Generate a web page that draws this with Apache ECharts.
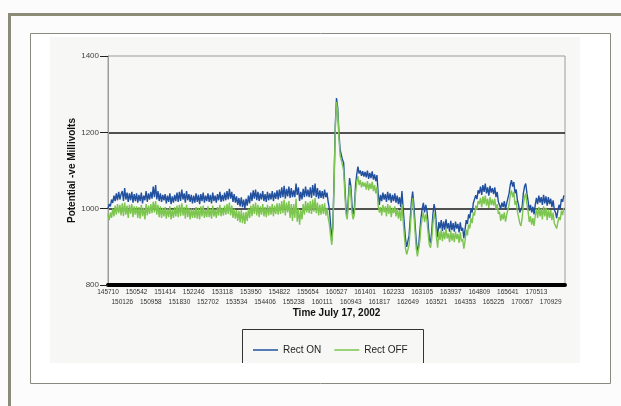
<!DOCTYPE html>
<html>
<head>
<meta charset="utf-8">
<script src="https://cdn.jsdelivr.net/npm/echarts@6/dist/echarts.min.js"></script>
<style>
  html, body { margin: 0; padding: 0; background: #fcfcfc; }
  #chart { width: 621px; height: 406px; }
</style>
</head>
<body>
<div id="chart"></div>
<script>
// Pipe-to-soil potential log, July 17 2002 (readings in -mV).
// Each row below covers one time-label step, 12 readings per step.
const PER_STEP = 12;

const timeLabels = [
  '145710','150126','150542','150958','151414','151830','152246','152702',
  '153118','153534','153950','154406','154822','155238','155654','160111',
  '160527','160943','161401','161817','162233','162649','163105','163521',
  '163937','164353','164809','165225','165641','170057','170513','170929'
];

const yTicks = [800, 1000, 1200, 1400];

const rectOn = [
  1000,1012,1006,1024,1015,1034,1020,1040,1022,1044,1024,1038,
  1046,1020,1054,1024,1042,1018,1040,1022,1044,1016,1038,1020,
  1040,1016,1036,1020,1042,1014,1034,1022,1046,1018,1040,1024,
  1044,1026,1058,1030,1062,1024,1046,1020,1040,1018,1036,1022,
  1038,1014,1034,1018,1040,1012,1032,1016,1036,1020,1042,1018,
  1044,1020,1050,1024,1040,1016,1046,1022,1038,1018,1036,1014,
  1034,1016,1040,1018,1036,1012,1038,1020,1042,1016,1034,1020,
  1040,1018,1036,1014,1042,1020,1034,1016,1038,1022,1044,1018,
  1036,1020,1042,1022,1046,1024,1052,1026,1044,1018,1038,1016,
  1032,1010,1028,1006,1030,1004,1024,1000,1026,1008,1034,1014,
  1042,1020,1048,1026,1050,1022,1044,1020,1040,1024,1046,1020,
  1038,1018,1044,1022,1040,1024,1046,1020,1042,1026,1048,1024,
  1050,1028,1056,1030,1060,1026,1052,1032,1058,1028,1054,1030,
  1048,1030,1066,1036,1056,1020,1044,1024,1052,1030,1058,1032,
  1050,1030,1056,1028,1062,1034,1066,1030,1054,1026,1048,1028,
  1046,1026,1050,1030,1042,1018,1000,960,915,960,1080,1220,
  1290,1265,1200,1155,1150,1128,1120,1060,1000,980,1030,1080,
  1060,1010,985,1000,1060,1090,1110,1092,1100,1086,1098,1084,
  1096,1082,1100,1078,1094,1080,1098,1076,1090,1072,1088,1040,
  1010,1036,1020,1042,1024,1038,1018,1044,1022,1040,1016,1036,
  1020,1040,1016,1034,1012,1030,1004,1046,1000,960,920,900,
  905,930,975,1020,1045,1010,960,915,890,900,940,975,
  1000,1015,990,1010,995,960,920,910,940,985,1012,995,
  955,925,965,948,970,942,966,945,972,948,962,940,
  968,944,962,940,966,948,960,938,964,942,950,922,
  945,970,960,985,975,1000,990,1015,1010,1035,1025,1048,
  1040,1058,1036,1062,1044,1066,1040,1056,1034,1060,1042,1054,
  1038,1056,1030,1044,1018,1022,1000,1016,1004,1020,998,1014,
  1010,1040,1062,1075,1058,1070,1040,1050,1022,1010,990,985,
  1005,1040,1058,1066,1040,1020,995,1010,990,1005,985,1010,
  1028,1012,1034,1016,1030,1010,1036,1014,1032,1008,1030,1012,
  1026,1004,1022,998,990,975,995,1010,1002,1025,1018,1035
];

const rectOff = [
  985,970,990,976,1000,980,1008,984,1012,988,1010,982,
  1014,980,1016,984,1008,976,1010,986,1012,978,1006,984,
  1006,976,1004,974,1010,980,1002,972,1012,982,1008,986,
  1012,988,1018,990,1020,984,1010,978,1006,976,1002,980,
  1004,974,1000,978,1006,972,998,976,1004,980,1008,978,
  1010,980,1014,982,1004,974,1010,978,1002,972,1000,976,
  1000,976,1004,974,1002,972,1006,980,1008,976,998,978,
  1006,978,1000,974,1008,980,998,976,1004,982,1010,980,
  1002,982,1008,984,1012,986,1016,982,1008,976,1000,974,
  996,968,994,964,996,962,990,960,992,968,1000,976,
  1008,980,1012,986,1016,982,1010,978,1006,984,1012,980,
  1004,978,1010,982,1006,984,1012,980,1008,986,1014,984,
  1014,986,1020,988,1024,982,1016,990,1020,976,1012,968,
  1012,976,1026,966,1000,958,996,972,1012,984,1020,990,
  1016,988,1020,986,1024,992,1028,988,1016,982,1010,984,
  1012,986,1014,982,1002,976,960,930,905,950,1070,1210,
  1280,1255,1190,1140,1138,1115,1100,1040,985,972,1015,1062,
  1040,990,972,985,1040,1070,1085,1062,1075,1056,1070,1058,
  1068,1050,1072,1048,1066,1052,1070,1046,1062,1040,1058,1008,
  990,1004,982,1010,990,1006,980,1012,986,1008,978,1002,
  988,1006,980,1000,974,996,968,1012,968,930,895,880,
  885,905,950,1000,1028,985,940,895,875,880,915,955,
  975,990,965,985,970,935,905,898,920,960,990,970,
  925,898,940,918,945,915,940,920,948,922,935,912,
  942,916,936,912,940,920,934,910,938,914,920,895,
  915,945,930,958,948,975,962,990,982,1008,998,1020,
  1012,1028,1004,1032,1012,1034,1008,1026,1002,1030,1010,1024,
  1008,1026,998,1012,986,992,968,986,972,990,966,984,
  980,1010,1036,1048,1030,1044,1010,1020,992,978,962,955,
  975,1012,1030,1040,1012,992,965,980,958,975,955,982,
  1000,976,1004,980,1000,972,1006,980,1002,970,998,976,
  996,970,990,962,955,948,965,978,970,995,983,1002
];

const FONT = '"Liberation Sans", Arial, sans-serif';

const toPairs = arr => arr.map((v, i) => [i / PER_STEP, v]);

// time labels alternate between two rows: even steps on the upper row, odd on the lower
const rowLabel = parity => v => {
  const k = Math.round(v);
  if (Math.abs(v - k) > 1e-6 || k >= timeLabels.length || k % 2 !== parity) return '';
  return timeLabels[k];
};

const timeAxisBase = {
  type: 'value', min: 0, max: timeLabels.length, interval: 1,
  position: 'bottom',
  axisTick: { show: false },
  splitLine: { show: false }
};

const chart = echarts.init(document.getElementById('chart'), null, { renderer: 'canvas' });

chart.setOption({
  animation: false,
  backgroundColor: '#fcfcfc',
  textStyle: { fontFamily: FONT },
  graphic: [
    // outer page frame
    { type: 'polyline', z: -100, silent: true,
      shape: { points: [[9.5, 406], [9.5, 14.5], [621, 14.5]] },
      style: { stroke: '#8b8b78', lineWidth: 3, fill: null } },
    // inner panel
    { type: 'rect', z: -99, silent: true,
      shape: { x: 30.5, y: 33.5, width: 580, height: 350 },
      style: { stroke: '#8a8a80', lineWidth: 1, fill: '#ffffff' } },
    // chart area
    { type: 'rect', z: -98, silent: true,
      shape: { x: 50, y: 37, width: 530, height: 326 },
      style: { fill: '#f7f7f6' } },
    // legend frame
    { type: 'polyline', z: 5, silent: true,
      shape: { points: [[242.5, 363], [242.5, 329.5], [423.5, 329.5], [423.5, 363]] },
      style: { stroke: '#333', lineWidth: 1, fill: null } }
  ],
  grid: {
    left: 108, right: 56, top: 56, bottom: 121,
    show: true, borderColor: '#9d9d9d', borderWidth: 1,
    backgroundColor: 'transparent'
  },
  legend: {
    left: 248, top: 340,
    icon: 'rect', itemWidth: 25, itemHeight: 1.5, itemGap: 13,
    textStyle: { fontSize: 10, color: '#222', fontFamily: FONT },
    data: ['Rect ON', 'Rect OFF']
  },
  xAxis: [
    Object.assign({}, timeAxisBase, {
      name: 'Time July 17, 2002', nameLocation: 'middle', nameGap: 23,
      nameMoveOverlap: false,
      nameTextStyle: { fontSize: 10, fontWeight: 'bold', color: '#111', fontFamily: FONT },
      axisLine: { show: true, lineStyle: { color: '#000', width: 4 } },
      axisLabel: {
        fontSize: 6.5, color: '#333', margin: 4,
        showMinLabel: true, showMaxLabel: false,
        formatter: rowLabel(0)
      }
    }),
    Object.assign({}, timeAxisBase, {
      axisLine: { show: false },
      axisLabel: {
        fontSize: 6.5, color: '#333', margin: 13.5,
        showMinLabel: false, showMaxLabel: false,
        formatter: rowLabel(1)
      }
    })
  ],
  yAxis: {
    type: 'value', min: yTicks[0], max: yTicks[yTicks.length - 1], interval: 200,
    name: 'Potential -ve Millivolts', nameLocation: 'middle', nameGap: 31,
    nameMoveOverlap: false,
    nameTextStyle: { fontSize: 10, fontWeight: 'bold', color: '#111', fontFamily: FONT },
    axisLine: { show: true, lineStyle: { color: '#9d9d9d', width: 1 } },
    axisTick: { show: true, length: 8, lineStyle: { color: '#222', width: 1 } },
    axisLabel: { fontSize: 8, color: '#444', margin: 9, formatter: v => String(v) },
    splitLine: {
      show: true, showMinLine: false, showMaxLine: false,
      lineStyle: { color: '#1a1a1a', width: 1.5 }
    }
  },
  series: [
    {
      name: 'Rect ON', type: 'line', showSymbol: false, symbol: 'none',
      xAxisIndex: 0,
      data: toPairs(rectOn), sampling: null,
      itemStyle: { color: '#21509e' },
      lineStyle: { color: '#21509e', width: 1.4 }
    },
    {
      name: 'Rect OFF', type: 'line', showSymbol: false, symbol: 'none',
      xAxisIndex: 0,
      data: toPairs(rectOff), sampling: null,
      itemStyle: { color: '#7cc54e' },
      lineStyle: { color: '#7cc54e', width: 1.4 }
    }
  ]
});
</script>
</body>
</html>
